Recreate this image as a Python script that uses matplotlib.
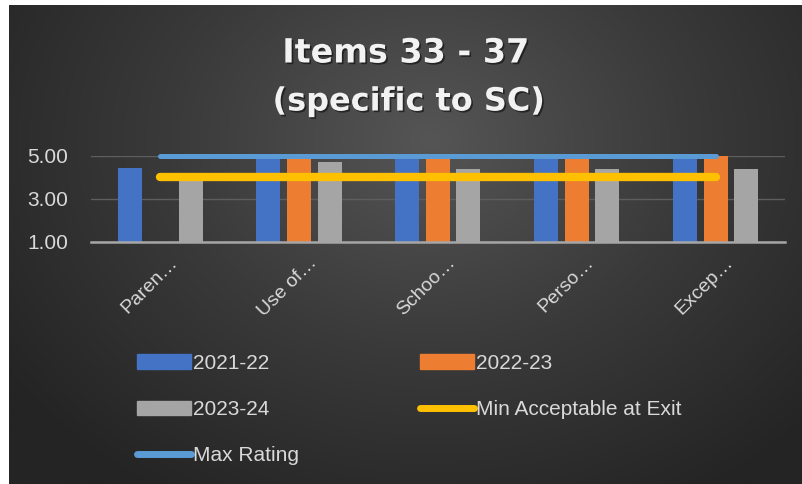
import numpy as np
import matplotlib.pyplot as plt
from matplotlib.patches import Patch
from matplotlib.lines import Line2D
from matplotlib.colors import LinearSegmentedColormap
from matplotlib.transforms import ScaledTranslation
import matplotlib.patheffects as pe

plt.rcParams['font.family'] = ['Liberation Sans', 'DejaVu Sans']

# data
categories = ["Paren…", "Use of…", "Schoo…", "Perso…", "Excep…"]
y2021 = [4.45, 5.0, 5.0, 5.0, 5.0]
y2022 = [np.nan, 5.0, 5.0, 5.0, 5.0]
y2023 = [4.0, 4.72, 4.37, 4.37, 4.37]
min_exit = [4, 4, 4, 4, 4]
max_rating = [5, 5, 5, 5, 5]
yticks = [1, 3, 5]

W, H = 802, 484
fig = plt.figure(figsize=(W / 100, H / 100), dpi=100)
fig.patch.set_facecolor("white")

# dark radial gradient background, white strip on the left and top
bg = fig.add_axes([9 / W, 0, 1 - 9 / W, 1 - 5 / H])
bg.set_axis_off()
gx, gy = np.meshgrid(np.linspace(9, W, 400), np.linspace(5, H, 240))
r = np.sqrt(((gx - 430) / 520) ** 2 + ((gy - 140) / 420) ** 2)
cmap = LinearSegmentedColormap.from_list("bg", ["#555555", "#3a3a3a", "#242424"])
bg.imshow(np.clip(r, 0, 1), cmap=cmap, vmin=0, vmax=1, aspect="auto",
          extent=[0, 1, 0, 1], origin="upper")

txt = "#d9d9d9"

ax = fig.add_axes([90.7 / W, 1 - 241.7 / H, (785 - 90.7) / W, 86 / H])
ax.set_facecolor("none")
x = np.arange(len(categories))
bw = 0.173
step = 0.22
ax.bar(x - step, y2021, bw, color="#4472C4", zorder=2)
ax.bar(x, y2022, bw, color="#ED7D31", zorder=2)
ax.bar(x + step, y2023, bw, color="#A5A5A5", zorder=2)
ax.plot(x, max_rating, color="#5B9BD5", lw=3.6, solid_capstyle="round",
        clip_on=False, zorder=3)
ax.plot(x, min_exit, color="#FFC000", lw=6, solid_capstyle="round", zorder=3)

ax.set_xlim(-0.5, 4.5)
ax.set_ylim(1, 5)
ax.set_yticks(yticks)
ax.set_yticklabels([f"{v:.2f}" for v in yticks], fontsize=15, color=txt)
ax.yaxis.grid(True, color="#5e5e5e", lw=1, zorder=0)
ax.set_axisbelow(True)
for s in ["top", "right", "left"]:
    ax.spines[s].set_visible(False)
ax.spines["bottom"].set_color("#a6a6a6")
ax.spines["bottom"].set_linewidth(1.8)
ax.spines["bottom"].set_zorder(4)
ax.tick_params(axis="both", length=0)
ax.tick_params(axis="y", pad=16)
ax.set_xticks(x)
ax.set_xticklabels(categories, rotation=45, ha="right", rotation_mode="anchor",
                   fontsize=14, color=txt)
ax.tick_params(axis="x", pad=6)
shift = ScaledTranslation(9 / 100, -4 / 100, fig.dpi_scale_trans)
for lab in ax.get_xticklabels():
    lab.set_transform(lab.get_transform() + shift)

# title
shadow = [pe.withSimplePatchShadow(offset=(1.2, -1.2), shadow_rgbFace="black", alpha=0.5)]
fig.text(406 / W, 1 - 53 / H, "Items 33 - 37", ha="center", va="center",
         fontsize=24, fontweight="bold", color="#f2f2f2", family="DejaVu Sans",
         path_effects=shadow)
fig.text(409 / W, 1 - 102 / H, "(specific to SC)", ha="center", va="center",
         fontsize=23, fontweight="bold", color="#f2f2f2", family="DejaVu Sans",
         path_effects=shadow)

# legend (column-wise order)
handles = [
    Patch(color="#4472C4"),
    Patch(color="#A5A5A5"),
    Line2D([], [], color="#5B9BD5", lw=5, solid_capstyle="round"),
    Patch(color="#ED7D31"),
    Line2D([], [], color="#FFC000", lw=5, solid_capstyle="round"),
]
labels = ["2021-22", "2023-24", "Max Rating", "2022-23", "Min Acceptable at Exit"]
fig.legend(handles, labels, ncol=2, loc="upper left",
           bbox_to_anchor=(137 / W, 1 - 354 / H), frameon=False,
           fontsize=15, labelcolor=txt, handlelength=2.6, handletextpad=0.1,
           columnspacing=5.8, labelspacing=1.3, borderpad=0, borderaxespad=0)

fig.savefig("out.png", dpi=100, facecolor=fig.get_facecolor())
